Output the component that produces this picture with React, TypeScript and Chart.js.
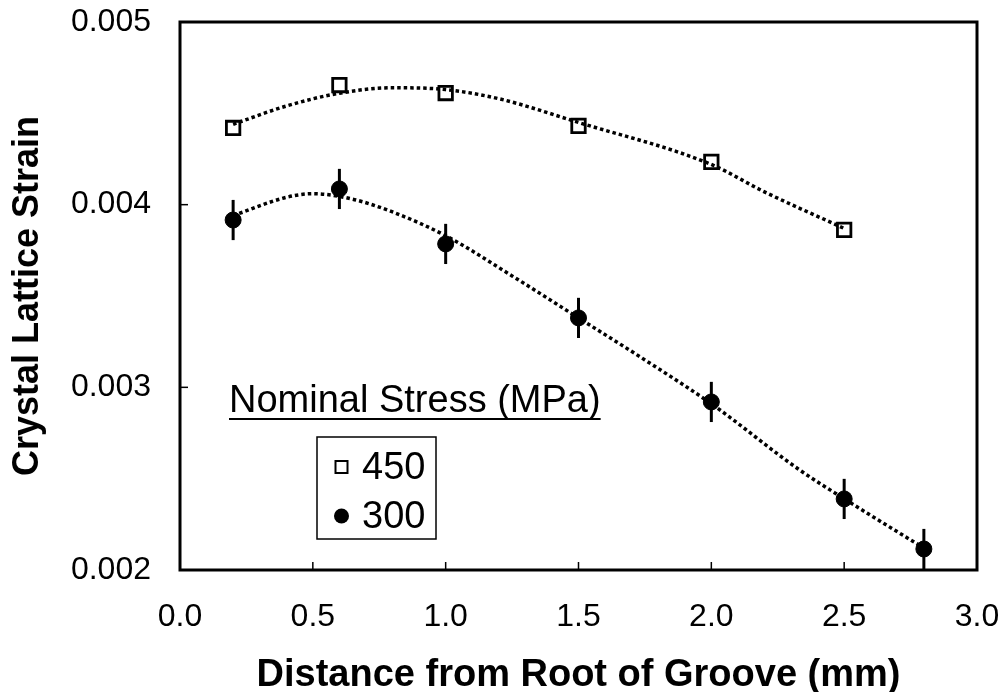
import React, { useEffect, useRef } from 'react';
import { Chart, registerables } from 'chart.js';

Chart.register(...registerables);

// ---- data ----
const x450 = [0.2, 0.6, 1.0, 1.5, 2.0, 2.5];
const y450 = [0.00442, 0.004655, 0.004611, 0.004431, 0.004234, 0.003862];

const x300 = [0.2, 0.6, 1.0, 1.5, 2.0, 2.5, 2.8];
const y300 = [0.003916, 0.004086, 0.003785, 0.00338, 0.00292, 0.002389, 0.002115];
const err300 = [0.00011, 0.00011, 0.00011, 0.00011, 0.00011, 0.00011, 0.00011];

// dotted trend curves
const fit450X = [0.2, 0.4, 0.6, 0.8, 1.0, 1.2, 1.5, 2.0, 2.2, 2.5];
const fit450Y = [0.00444, 0.00454, 0.00461, 0.00464, 0.00463, 0.00458, 0.00445, 0.00422, 0.00407, 0.00387];

const fit300X = [0.2, 0.4, 0.5, 0.65, 0.8, 1.0, 1.25, 1.5, 1.75, 2.0, 2.33, 2.5, 2.8];
const fit300Y = [0.00394, 0.00404, 0.00406, 0.00403, 0.00396, 0.00383, 0.00361, 0.00338, 0.00315, 0.00291, 0.00255, 0.00239, 0.00212];

const xMin = 0, xMax = 3.0, xStep = 0.5;
const yMin = 0.002, yMax = 0.005, yStep = 0.001;

const xTitle = 'Distance from Root of Groove (mm)';
const yTitle = 'Crystal Lattice Strain';
const legendTitle = 'Nominal Stress (MPa)';
const seriesLabels = ['450', '300'];

const FONT = '"Liberation Sans", Arial, Helvetica, sans-serif';

const toPts = (xs: number[], ys: number[]) => xs.map((x, i) => ({ x, y: ys[i] }));

const zeroPad = (s: any) => {
  s.paddingTop = 0;
  s.paddingBottom = 0;
  s.paddingLeft = 0;
  s.paddingRight = 0;
};

const decorPlugin = {
  id: 'decor',
  beforeDatasetsDraw(chart: any) {
    const { ctx, scales } = chart;
    const xs = scales.x, ys = scales.y;
    ctx.save();
    ctx.strokeStyle = '#000';
    ctx.lineWidth = 3;
    x300.forEach((x, i) => {
      const px = xs.getPixelForValue(x);
      ctx.beginPath();
      ctx.moveTo(px, ys.getPixelForValue(y300[i] - err300[i]));
      ctx.lineTo(px, ys.getPixelForValue(y300[i] + err300[i]));
      ctx.stroke();
    });
    ctx.restore();
  },
  afterDraw(chart: any) {
    const { ctx, chartArea: a, scales } = chart;
    ctx.save();
    ctx.strokeStyle = '#000';
    // frame
    ctx.lineWidth = 3;
    ctx.strokeRect(a.left, a.top, a.right - a.left, a.bottom - a.top);
    // inward ticks
    ctx.lineWidth = 1.5;
    scales.x.ticks.forEach((t: any) => {
      if (t.value <= xMin || t.value >= xMax) return;
      const px = scales.x.getPixelForValue(t.value);
      ctx.beginPath();
      ctx.moveTo(px, a.bottom);
      ctx.lineTo(px, a.bottom - 8);
      ctx.stroke();
    });
    scales.y.ticks.forEach((t: any) => {
      if (t.value <= yMin + 1e-9 || t.value >= yMax - 1e-9) return;
      const py = scales.y.getPixelForValue(t.value);
      ctx.beginPath();
      ctx.moveTo(a.left, py);
      ctx.lineTo(a.left + 8, py);
      ctx.stroke();
    });
    // legend
    ctx.fillStyle = '#000';
    ctx.font = `38px ${FONT}`;
    ctx.textAlign = 'left';
    ctx.textBaseline = 'alphabetic';
    const tx = 229, ty = 412;
    ctx.fillText(legendTitle, tx, ty);
    const w = ctx.measureText(legendTitle).width;
    ctx.lineWidth = 2;
    ctx.beginPath();
    ctx.moveTo(tx, 419);
    ctx.lineTo(tx + w, 419);
    ctx.stroke();
    ctx.lineWidth = 1.5;
    ctx.strokeRect(317, 437, 119, 102);
    // entries
    ctx.lineWidth = 2;
    ctx.strokeRect(335.5, 461, 12, 12);
    ctx.fillText(seriesLabels[0], 362, 479);
    ctx.beginPath();
    ctx.arc(341.5, 516, 7.5, 0, Math.PI * 2);
    ctx.fill();
    ctx.fillText(seriesLabels[1], 362, 528);
    ctx.restore();
  },
};

export default function App() {
  const ref = useRef<HTMLCanvasElement | null>(null);
  useEffect(() => {
    if (!ref.current) return;
    const dotted = {
      showLine: true,
      pointRadius: 0,
      pointHoverRadius: 0,
      borderColor: '#000',
      borderWidth: 3.5,
      borderDash: [3.5, 3],
      cubicInterpolationMode: 'monotone',
      fill: false,
    };
    const chart = new Chart(ref.current, {
      type: 'scatter',
      data: {
        datasets: [
          { ...dotted, label: 'fit450', data: toPts(fit450X, fit450Y) } as any,
          { ...dotted, label: 'fit300', data: toPts(fit300X, fit300Y) } as any,
          {
            label: seriesLabels[0],
            data: toPts(x450, y450),
            pointStyle: 'rect',
            pointRadius: 9.5,
            pointBackgroundColor: '#fff',
            pointBorderColor: '#000',
            pointBorderWidth: 2.8,
            showLine: false,
          },
          {
            label: seriesLabels[1],
            data: toPts(x300, y300),
            pointStyle: 'circle',
            pointRadius: 8,
            pointBackgroundColor: '#000',
            pointBorderColor: '#000',
            pointBorderWidth: 1,
            showLine: false,
          },
        ],
      },
      options: {
        animation: false,
        responsive: false,
        devicePixelRatio: 1,
        layout: { autoPadding: false, padding: { top: 22, right: 26, left: 0, bottom: 0 } },
        plugins: { legend: { display: false }, tooltip: { enabled: false } },
        scales: {
          x: {
            type: 'linear',
            min: xMin,
            max: xMax,
            grid: { display: false, drawTicks: false },
            border: { display: false },
            ticks: {
              stepSize: xStep,
              padding: 28,
              color: '#000',
              font: { family: FONT, size: 32 },
              callback: (v: any) => Number(v).toFixed(1),
            },
            title: {
              display: true,
              text: xTitle,
              color: '#000',
              font: { family: FONT, size: 38, weight: 'bold', lineHeight: 0.8 },
              padding: { top: 0, bottom: 1 },
            },
            afterFit: (s: any) => { s.height = 122; zeroPad(s); },
          },
          y: {
            type: 'linear',
            min: yMin,
            max: yMax,
            grid: { display: false, drawTicks: false },
            border: { display: false },
            ticks: {
              stepSize: yStep,
              padding: 29,
              color: '#000',
              font: { family: FONT, size: 32 },
              callback: (v: any) => Number(v).toFixed(3),
            },
            title: {
              display: true,
              text: yTitle,
              color: '#000',
              font: { family: FONT, size: 36, weight: 'bold', lineHeight: 1.2 },
              padding: { top: 6, bottom: 0 },
            },
            afterFit: (s: any) => { s.width = 180; zeroPad(s); },
          },
        },
      } as any,
      plugins: [decorPlugin],
    });
    return () => chart.destroy();
  }, []);
  return (
    <div style={{ position: 'absolute', left: 0, top: 0, width: 1003, height: 692, background: '#fff' }}>
      <canvas ref={ref} width={1003} height={692} style={{ display: 'block', width: 1003, height: 692 }} />
    </div>
  );
}
